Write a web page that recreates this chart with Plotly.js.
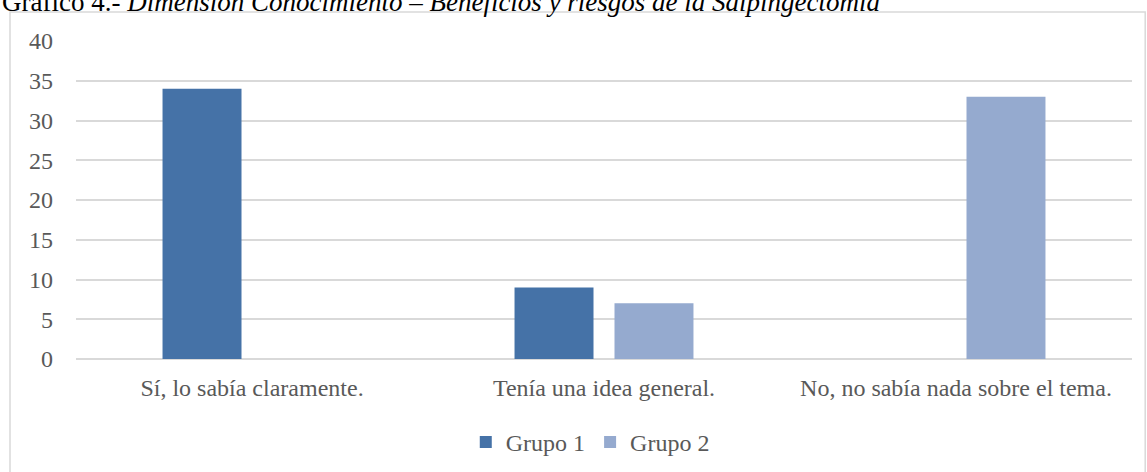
<!DOCTYPE html>
<html><head><meta charset="utf-8">
<script src="https://cdn.plot.ly/plotly-3.0.1.min.js"></script>
<style>html,body{margin:0;padding:0;background:#fff;}</style>
</head><body>
<div id="chart" style="width:1147px;height:472px;"></div>
<script>
const categories = ["Sí, lo sabía claramente.", "Tenía una idea general.", "No, no sabía nada sobre el tema."];
const grupo1 = [34, 9, 0];
const grupo2 = [0, 7, 33];
const seriesNames = ["Grupo 1", "Grupo 2"];
const yTicks = [0, 5, 10, 15, 20, 25, 30, 35, 40];
const titleText = "Gráfico 4.- <i>Dimensión Conocimiento – Beneficios y riesgos de la Salpingectomía</i>";

const tickFont = {family: "Liberation Serif, Times New Roman, serif", size: 24, color: "#595959"};

const data = [
  {type: "bar", x: categories, y: grupo1, name: seriesNames[0], marker: {color: "#4572A7"}, hoverinfo: "none"},
  {type: "bar", x: categories, y: grupo2, name: seriesNames[1], marker: {color: "#95AACF"}, hoverinfo: "none"}
];

const layout = {
  width: 1147, height: 472,
  margin: {l: 76, r: 15, t: 41, b: 113, autoexpand: false},
  paper_bgcolor: "#ffffff", plot_bgcolor: "#ffffff",
  barmode: "group", bargap: 0.432, bargroupgap: 0.21,
  showlegend: true,
  legend: {orientation: "h", x: 0.487, xanchor: "center", y: -0.262, yanchor: "middle",
           font: tickFont, itemwidth: 30, traceorder: "normal"},
  xaxis: {showgrid: false, showline: false, zeroline: false, ticks: "", tickfont: tickFont,
          ticklabelstandoff: 12, fixedrange: true, automargin: false},
  yaxis: {range: [0, 40], tickvals: yTicks, ticktext: yTicks.map(String), showgrid: true,
          gridcolor: "#d9d9d9", gridwidth: 2, zeroline: true, zerolinecolor: "#d9d9d9", zerolinewidth: 2,
          showline: false, ticks: "", tickfont: tickFont, ticklabelstandoff: 22, fixedrange: true, automargin: false},
  shapes: [{type: "rect", xref: "paper", yref: "paper", x0: -0.0625, x1: 1.0125, y0: -0.37, y1: 1.091,
            line: {color: "#d9d9d9", width: 1.5}, fillcolor: "rgba(0,0,0,0)", layer: "below"}],
  annotations: [{text: titleText, xref: "paper", yref: "paper", x: -0.072, xanchor: "left",
                 y: 1.1226, yanchor: "middle", showarrow: false,
                 font: {family: "Liberation Serif, Times New Roman, serif", size: 27, color: "#000000"}}]
};

Plotly.newPlot("chart", data, layout, {displayModeBar: false, staticPlot: true});
</script>
</body></html>
